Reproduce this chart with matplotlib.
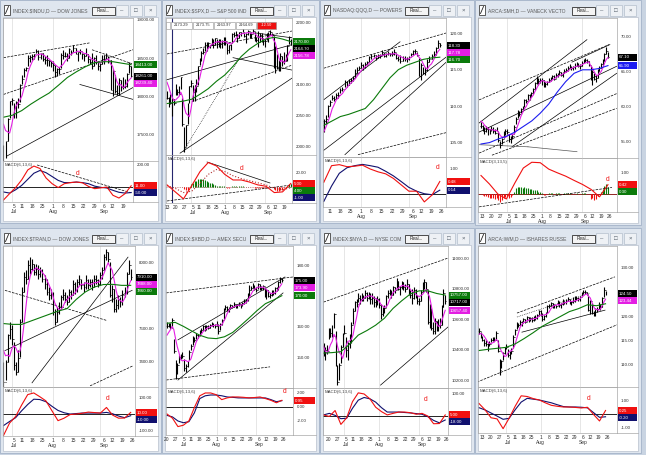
import numpy as np
import pandas as pd
import matplotlib
matplotlib.use("Agg")
import matplotlib.pyplot as plt
from matplotlib.patches import Rectangle

plt.rcParams['font.family'] = ['Liberation Sans', 'DejaVu Sans']

# ---------------- data (2016, daily) ----------------
# Dow Jones Industrials, Jun 27 - Sep 23
dji_pre = [17830, 17780, 18011, 17400]
dji_cl = [17140, 17410, 17695, 17930, 17949,
          17841, 17919, 17896, 18147,
          18227, 18348, 18372, 18506, 18517,
          18533, 18559, 18595, 18517, 18571,
          18493, 18474, 18472, 18456, 18432,
          18405, 18314, 18355, 18352, 18544,
          18529, 18533, 18496, 18614, 18576,
          18636, 18552, 18574, 18598, 18553,
          18529, 18547, 18481, 18448, 18395,
          18503, 18454, 18401, 18419, 18492,
          18538, 18526, 18480, 18085,
          18325, 18067, 18035, 18212, 18124,
          18120, 18130, 18294, 18392, 18261]
dji_hi = [17355, 17410, 17710, 17930, 17980,
          17904, 17931, 17975, 18160,
          18283, 18372, 18389, 18537, 18538,
          18556, 18559, 18622, 18605, 18571,
          18567, 18521, 18534, 18473, 18459,
          18459, 18404, 18371, 18378, 18572,
          18612, 18580, 18560, 18638, 18602,
          18668, 18636, 18578, 18613, 18568,
          18553, 18629, 18547, 18485, 18570,
          18519, 18541, 18448, 18432, 18536,
          18538, 18560, 18526, 18480,
          18359, 18280, 18145, 18241, 18212,
          18252, 18219, 18300, 18450, 18393]
dji_lo = [17063, 17190, 17410, 17711, 17890,
          17713, 17713, 17840, 17927,
          18160, 18249, 18331, 18394, 18450,
          18474, 18493, 18566, 18470, 18485,
          18464, 18420, 18402, 18395, 18380,
          18330, 18247, 18263, 18294, 18367,
          18490, 18511, 18467, 18496, 18541,
          18577, 18552, 18466, 18551, 18489,
          18456, 18529, 18431, 18418, 18355,
          18390, 18422, 18343, 18328, 18420,
          18426, 18493, 18431, 18084,
          18004, 18047, 18011, 18012, 18072,
          18100, 18107, 18116, 18303, 18251]
dji_slow = [17723, 17750, 17810, 17895, 17970, 18040, 18140, 18244,
            18320, 18387, 18440, 18452, 18452, 18432, 18413]
dji_macd = [-118, -60, -5, 65, 155, 190, 168, 82, 30, -5, 30, 40, 45, 38,
            5, -15, -8, 0, -75, -100, -60, 11]
dji_sig = [-45, -55, -25, 15, 70, 125, 150, 130, 95, 60, 40, 40, 45, 40,
           30, 8, -3, -9, -30, -48, -55, -50]
dji_lines = [((0, 18505), (42, 18700), '--'), ((43, 18609), (62.4, 18426), '--'),
             ((0, 18022), (62.9, 18609), '--'), ((1.7, 17214), (62.9, 18113), '-'),
             ((37.1, 18153), (62.9, 17957), '-')]
dji_mlines = [((16.3, 200), (62.4, -55), '--')]

# S&P 500, Jun 13 - Sep 23
spx_pre = [2112.1, 2119.1, 2115.5, 2096.1]
spx_cl = [2079.1, 2075.3, 2071.5, 2078.0, 2071.2,
          2083.3, 2088.9, 2085.5, 2113.3, 2037.4,
          2000.5, 2036.1, 2070.8, 2098.9, 2103.0,
          2088.6, 2099.7, 2097.9, 2129.9,
          2137.2, 2152.1, 2152.4, 2163.8, 2161.7,
          2166.9, 2163.8, 2173.0, 2165.2, 2175.0,
          2168.5, 2169.2, 2166.6, 2170.1, 2173.6,
          2170.8, 2157.0, 2163.8, 2164.3, 2182.9,
          2180.9, 2181.7, 2175.5, 2185.8, 2184.1,
          2190.2, 2178.2, 2182.2, 2187.0, 2183.9,
          2182.6, 2186.9, 2175.4, 2172.5, 2169.0,
          2180.4, 2176.1, 2171.0, 2170.9, 2180.0,
          2186.5, 2186.2, 2181.3, 2127.8,
          2159.0, 2127.0, 2125.8, 2147.3, 2139.2,
          2139.1, 2139.8, 2163.1, 2177.2, 2164.7]
spx_hi = [2091, 2081, 2086, 2079, 2078,
          2101, 2094, 2099, 2113, 2079,
          2032, 2036, 2071, 2099, 2108,
          2100, 2100, 2109, 2131,
          2143, 2155, 2159, 2169, 2169,
          2169, 2164, 2175, 2174, 2175,
          2174, 2174, 2174, 2172, 2177,
          2178, 2168, 2164, 2166, 2183,
          2185, 2187, 2182, 2186, 2186,
          2194, 2186, 2183, 2188, 2185,
          2185, 2193, 2186, 2178, 2187,
          2183, 2183, 2175, 2174, 2184,
          2186, 2188, 2184, 2179,
          2163, 2150, 2141, 2151, 2146,
          2153, 2150, 2164, 2179, 2174]
spx_lo = [2078, 2065, 2069, 2050, 2067,
          2083, 2083, 2084, 2094, 2033,
          1992, 2001, 2037, 2071, 2097,
          2074, 2074, 2089, 2100,
          2132, 2138, 2150, 2155, 2155,
          2159, 2159, 2165, 2159, 2164,
          2160, 2161, 2159, 2159, 2164,
          2164, 2150, 2152, 2157, 2168,
          2177, 2179, 2169, 2176, 2179,
          2186, 2178, 2168, 2181, 2175,
          2175, 2183, 2171, 2170, 2161,
          2170, 2170, 2165, 2162, 2173,
          2170, 2180, 2178, 2127,
          2120, 2126, 2122, 2122, 2131,
          2134, 2138, 2138, 2166, 2164]
spx_slow = [2070, 2072, 2074, 2077, 2085, 2094, 2106, 2116,
            2130, 2146, 2158, 2167, 2174, 2177, 2174, 2170]
spx_macd = [3, -7, -17, 2, 22, 35, 30, 18, 10, 10, 7, 3, 1, -8, -7, 5]
spx_sig = [2, -2, -8, -6, 5, 18, 25, 22, 16, 12, 9, 6, 3, -2, -4, -1]
spx_hist = [0, 0, 0, 0, 0,
            0, 0, 0, 0, 0,
            -3, -5, -4, 0, 4,
            6, 8, 9, 11,
            12, 12, 11, 10, 9,
            7, 6, 5, 4, 3,
            2, 2, 1, 1, 1,
            0, -1, -1, 0, 1,
            1, 1, 0, 1, 1,
            1, 0, 0, 0, 0,
            0, 0, -1, -1, -1,
            -1, -1, -1, -1, 0,
            0, 0, 0, -3,
            -4, -6, -6, -5, -4,
            -2, -1, 2, 4, 4]
spx_legend = ['2173.29', '2173.75', '2163.97', '2164.69']
spx_lines = [((0, 2150), (72.7, 2187), '--'), ((51.2, 2184), (72.7, 2176), '-'),
             ((-0.6, 2108), (72.7, 2165), '-'), ((14.5, 2073), (72.7, 2132), '--'),
             ((38.4, 2144), (72.7, 2124), '-'), ((7.6, 1990), (72.7, 2111), '-'),
             ((9.3, 1992), (42.4, 2144), ':')]
spx_mlines = [((23.3, 35.7), (59.9, 5.7), '-'), ((0, -20), (72.7, 2.9), '--')]

# PowerShares QQQ, Jul 6 - Sep 23
qqq_pre = [105.2, 106.3, 106.8, 106.3]
qqq_cl = [108.0, 108.3, 110.0,
          110.6, 111.2, 111.0, 111.5, 111.6,
          112.2, 112.4, 113.3, 112.9, 113.5,
          113.6, 113.8, 114.6, 115.0, 115.2,
          115.7, 115.3, 115.8, 116.0, 116.7,
          116.8, 117.0, 116.6, 117.0, 116.9,
          117.4, 116.9, 117.1, 117.3, 117.1,
          117.2, 117.4, 116.6, 116.5, 116.2,
          116.6, 116.5, 116.4, 116.7, 117.1,
          117.5, 117.6, 117.0, 114.2,
          115.6, 114.6, 114.9, 116.1, 116.5,
          116.9, 117.2, 117.9, 118.6, 118.3]
qqq_hi = [108.3, 108.8, 110.2,
          110.8, 111.6, 111.4, 111.8, 111.9,
          112.5, 112.7, 113.6, 113.4, 113.7,
          113.9, 114.2, 115.1, 115.4, 115.5,
          116.0, 115.8, 116.0, 116.2, 116.9,
          117.1, 117.2, 117.0, 117.2, 117.1,
          117.7, 117.3, 117.3, 117.5, 117.3,
          117.5, 117.8, 117.3, 116.8, 117.0,
          116.9, 116.8, 116.7, 116.9, 117.3,
          117.7, 117.8, 117.4, 116.6,
          115.9, 115.4, 115.4, 116.4, 116.8,
          117.2, 117.5, 118.1, 119.0, 118.7]
qqq_lo = [106.5, 107.6, 108.6,
          110.0, 110.8, 110.7, 111.0, 111.2,
          111.8, 112.1, 112.7, 112.6, 112.9,
          113.2, 113.4, 113.9, 114.6, 114.9,
          115.2, 114.9, 115.2, 115.6, 116.1,
          116.5, 116.7, 116.3, 116.6, 116.6,
          117.0, 116.7, 116.7, 117.0, 116.8,
          116.9, 117.0, 116.4, 116.2, 115.9,
          116.2, 116.2, 116.1, 116.3, 116.8,
          117.0, 117.2, 116.8, 114.1,
          113.6, 114.4, 114.3, 114.8, 116.0,
          116.5, 116.8, 117.0, 118.0, 118.1]
qqq_slow = [107.4, 108.0, 108.6, 108.9, 109.3, 109.7, 110.9, 112.4,
            113.9, 115.0, 115.6, 116.0, 116.4, 116.6, 116.7]
qqq_macd = [0.45, 1.1, 1.14, 1.06, 1.08, 1.12, 0.97, 0.86, 0.78, 0.6, 0.35,
            0.1, 0.1, -0.32, -0.05, 0.48]
qqq_sig = [-0.3, 0.3, 0.8, 1.02, 1.1, 1.15, 1.1, 1.04, 0.88, 0.7, 0.48,
           0.25, 0.1, 0.0, -0.04, 0.14]
qqq_lines = [((0, 115.2), (59, 120.0), '--'), ((0, 110.9), (36.8, 118.8), '-'),
             ((0, 104.0), (59, 116.7), '-'), ((10.2, 103.4), (59, 116.0), '-'),
             ((16.5, 103.4), (59, 106.4), '--')]

# VanEck Vectors Semiconductor SMH, Jun 10 - Sep 23
smh_pre = [58.0, 58.4, 58.2, 57.9]
smh_cl = [57.3,
          57.0, 56.6, 56.9, 56.8, 56.4,
          56.9, 56.6, 56.3, 57.0, 55.3,
          54.5, 55.4, 56.3, 56.6, 56.4,
          55.4, 55.7, 55.9, 57.2,
          58.3, 59.2, 59.0, 59.7, 59.8,
          61.0, 60.8, 61.7, 61.3, 62.0,
          62.5, 63.4, 64.0, 63.7, 63.9,
          63.8, 63.1, 63.3, 63.5, 63.9,
          64.1, 64.4, 64.0, 64.6, 64.5,
          65.0, 64.6, 64.8, 65.2, 65.3,
          65.6, 65.9, 65.5, 65.7, 65.8,
          66.2, 65.9, 65.8, 66.3, 66.6,
          66.7, 66.5, 66.0, 63.8,
          65.0, 64.0, 64.2, 65.2, 65.6,
          66.1, 66.6, 67.5, 68.0, 67.1]
smh_hi = [57.8,
          57.4, 57.1, 57.3, 57.1, 56.9,
          57.3, 57.1, 56.8, 57.2, 56.5,
          55.2, 55.6, 56.5, 56.8, 56.9,
          56.1, 55.9, 56.2, 57.4,
          58.5, 59.5, 59.4, 59.9, 60.1,
          61.2, 61.2, 61.9, 61.8, 62.2,
          62.7, 63.6, 64.4, 64.2, 64.1,
          64.2, 63.8, 63.5, 63.7, 64.1,
          64.3, 64.6, 64.5, 64.8, 64.8,
          65.3, 65.0, 65.0, 65.4, 65.6,
          65.8, 66.2, 65.9, 65.9, 66.3,
          66.4, 66.3, 66.1, 66.5, 66.8,
          67.0, 66.9, 66.6, 65.8,
          65.3, 64.8, 64.6, 65.4, 65.8,
          66.3, 66.8, 67.7, 68.5, 67.9]
smh_lo = [57.0,
          56.6, 56.2, 56.4, 56.0, 56.2,
          56.5, 56.3, 56.1, 56.5, 55.0,
          54.2, 54.7, 55.6, 56.0, 56.1,
          55.0, 54.9, 55.4, 56.2,
          57.5, 58.4, 58.7, 59.1, 59.4,
          60.0, 60.5, 61.0, 61.0, 61.4,
          61.8, 62.4, 63.3, 63.2, 63.4,
          63.1, 62.8, 62.9, 63.1, 63.5,
          63.7, 64.0, 63.8, 64.1, 64.3,
          64.6, 64.4, 64.3, 64.8, 65.0,
          65.2, 65.6, 65.3, 65.3, 65.4,
          65.8, 65.7, 65.4, 65.8, 66.3,
          66.4, 66.3, 65.8, 63.8,
          63.2, 63.9, 63.6, 64.1, 65.1,
          65.6, 66.0, 66.6, 67.5, 67.0]
smh_slow = [54.7, 54.9, 55.4, 55.8, 56.4, 57.2, 58.0, 59.1,
            60.4, 62.1, 63.6, 64.8, 65.3, 65.3, 65.5, 65.9]
smh_macd = [0.85, 0.45, -0.02, -0.25, 0.5, 1.2, 1.47, 1.45, 1.15, 0.98, 0.82,
            0.62, 0.43, 0.2, -0.15, 0.42]
smh_hist = [0,
            -0.05, -0.1, -0.12, -0.15, -0.2,
            -0.2, -0.22, -0.25, -0.2, -0.3,
            -0.38, -0.3, -0.2, -0.15, -0.12,
            -0.2, -0.15, -0.05, 0.1,
            0.25, 0.33, 0.3, 0.32, 0.28,
            0.3, 0.25, 0.25, 0.2, 0.2,
            0.15, 0.18, 0.15, 0.1, 0.08,
            0.05, -0.05, -0.05, -0.03, 0.02,
            0.02, 0.03, 0.0, 0.03, 0.02,
            0.03, 0.0, 0.0, 0.02, 0.02,
            0.02, 0.03, 0.0, 0.0, 0.0,
            0.02, 0.0, -0.02, 0.02, 0.03,
            0.03, 0.0, -0.03, -0.25,
            -0.2, -0.3, -0.25, -0.1, -0.02,
            0.1, 0.2, 0.35, 0.43, 0.3]
smh_lines = [((-1.1, 61.0), (73.6, 68.9), '--'), ((-1.1, 57.7), (60.9, 69.6), '-'),
             ((-1.1, 56.4), (78, 65.8), '-'), ((52.3, 66.4), (74.1, 68.9), '-'),
             ((-1.1, 53.4), (78, 61.9), '--'), ((6.3, 53.1), (78, 59.8), '--'),
             ((17.8, 54.3), (78, 64.8), '-'),
             ((-1.1, 54.6), (27, 54.3), '-', '#555555'), ((27, 54.3), (55.2, 53.6), '-', '#555555')]
smh_mlines = [((-1.1, -0.62), (75.3, 0.29), '--')]

# Dow Jones Transportation, Jun 27 - Sep 23
djt_pre = [7560, 7540, 7640, 7320]
djt_cl = [7280, 7400, 7560, 7600, 7540,
          7380, 7340, 7420, 7640,
          7820, 7910, 7900, 7980, 7960,
          7990, 7940, 7960, 7930, 7950,
          7900, 7870, 7820, 7800, 7810,
          7700, 7640, 7700, 7730, 7790,
          7800, 7780, 7760, 7820, 7800,
          7870, 7830, 7880, 7900, 7860,
          7850, 7890, 7860, 7880, 7850,
          7900, 7890, 7870, 7920, 7950,
          8030, 8060, 8020, 7800,
          7840, 7720, 7740, 7780, 7760,
          7800, 7820, 7930, 7980, 7910]
djt_hi = [7400, 7410, 7570, 7640, 7620,
          7520, 7400, 7470, 7660,
          7850, 7940, 7950, 8010, 8030,
          8020, 7990, 7990, 7980, 7970,
          7960, 7920, 7900, 7850, 7840,
          7820, 7720, 7730, 7760, 7800,
          7840, 7820, 7800, 7840, 7830,
          7890, 7880, 7900, 7920, 7900,
          7880, 7920, 7900, 7900, 7900,
          7920, 7920, 7900, 7940, 7970,
          8050, 8080, 8060, 8000,
          7860, 7840, 7780, 7800, 7790,
          7830, 7850, 7940, 8010, 7960]
djt_lo = [7250, 7290, 7400, 7540, 7500,
          7350, 7320, 7340, 7430,
          7640, 7820, 7870, 7900, 7930,
          7950, 7920, 7920, 7900, 7910,
          7880, 7840, 7800, 7770, 7780,
          7680, 7620, 7640, 7690, 7720,
          7770, 7760, 7740, 7760, 7780,
          7800, 7810, 7820, 7860, 7840,
          7820, 7840, 7840, 7850, 7830,
          7850, 7870, 7850, 7860, 7900,
          7950, 8010, 8000, 7790,
          7760, 7700, 7700, 7720, 7730,
          7740, 7790, 7810, 7930, 7890]
djt_slow = [7630, 7625, 7625, 7645, 7665, 7685, 7705, 7720,
            7775, 7820, 7850, 7865, 7866, 7860, 7860]
djt_macd = [-130, -55, -15, 55, 118, 128, 105, 80, 20, -40, -25, -3, 0, 5,
            12, 9, 6, 40, -6, -25, -24, 10]
djt_sig = [-70, -45, -22, 20, 58, 90, 88, 75, 47, 22, 8, 0, 3, 6,
           6, 6, 6, 10, 2, -12, -22, -10]
djt_lines = [((0.7, 7830), (50.5, 7648), '--'), ((0.7, 7467), (62.7, 7830), '-'),
             ((13.9, 7273), (60.7, 8030), '-'), ((42.2, 7255), (63.2, 7376), '--')]

# AMEX Securities Broker/Dealer XBD, Jun 20 - Sep 23
xbd_pre = [156.0, 155.5, 156.5, 157.5]
xbd_cl = [160.2, 160.5, 159.8, 162.0, 152.0,
          145.5, 147.5, 150.0, 150.5, 150.2,
          146.5, 147.2, 148.0, 151.8,
          153.5, 156.2, 155.6, 157.3, 157.0,
          158.2, 158.8, 160.0, 159.3, 160.1,
          159.6, 160.4, 160.8, 160.5, 160.2,
          161.0, 158.5, 160.8, 162.0, 165.5,
          166.2, 165.8, 165.6, 166.8, 166.4,
          167.3, 166.6, 166.9, 167.2, 166.8,
          167.5, 168.2, 168.6, 170.5, 172.0,
          172.6, 173.3, 172.2, 172.0, 173.8,
          172.8, 172.5, 173.2, 169.8,
          171.8, 169.9, 170.1, 171.6, 170.8,
          172.4, 172.0, 174.6, 175.5, 175.0]
xbd_hi = [161.5, 161.2, 161.0, 162.6, 156.0,
          149.0, 148.0, 150.5, 151.0, 151.5,
          149.5, 147.8, 148.8, 152.2,
          154.2, 156.8, 156.6, 157.8, 157.6,
          158.8, 159.4, 160.5, 160.3, 160.5,
          160.4, 160.9, 161.5, 161.0, 160.8,
          161.8, 160.8, 161.2, 162.4, 165.9,
          166.8, 166.5, 166.3, 167.2, 167.0,
          168.0, 167.4, 167.3, 167.8, 167.3,
          167.9, 168.8, 169.0, 171.0, 173.4,
          173.2, 174.0, 173.4, 172.8, 174.2,
          173.9, 173.2, 173.6, 172.9,
          172.3, 171.8, 170.9, 172.0, 171.8,
          172.9, 172.8, 174.9, 176.2, 175.8]
xbd_lo = [159.6, 159.8, 159.2, 159.6, 151.4,
          142.8, 144.5, 148.0, 149.4, 149.6,
          145.4, 145.0, 146.6, 148.9,
          152.4, 154.0, 155.0, 155.9, 156.1,
          157.2, 157.8, 158.8, 158.6, 158.9,
          159.0, 159.4, 160.0, 159.7, 159.5,
          160.0, 157.6, 158.8, 160.6, 162.5,
          165.3, 165.0, 164.8, 165.6, 165.9,
          166.4, 166.0, 166.0, 166.5, 166.0,
          166.7, 167.3, 167.7, 168.4, 170.0,
          171.7, 172.4, 171.7, 171.2, 172.3,
          172.0, 171.8, 172.0, 169.6,
          168.8, 169.5, 169.3, 170.0, 170.2,
          170.5, 171.5, 172.0, 174.2, 174.5]
xbd_slow = [161.0, 161.3, 160.0, 158.5, 157.1, 156.2, 156.0, 156.6,
            158.0, 160.3, 162.7, 165.2, 167.4, 168.6, 170.0]
xbd_macd = [-1.0, -1.6, -2.8, -2.6, -2.0, -0.1, 1.6, 2.0, 2.0, 1.75, 1.05,
            1.3, 1.43, 1.43, 1.38, 1.3, 1.35, 1.43, 1.2, 0.95, 0.6, 0.95]
xbd_sig = [-1.2, -1.42, -2.0, -2.25, -2.1, -0.85, 1.2, 1.6, 1.71, 1.71, 1.6,
           1.43, 1.38, 1.3, 1.29, 1.29, 1.29, 1.29, 1.29, 1.05, 0.75, 0.9]
xbd_lines = [((-0.5, 170.9), (73.5, 176.1), '--'), ((6.4, 155.6), (68.8, 176.1), '-'),
             ((6.4, 142.5), (67.7, 170.9), '-'), ((-0.5, 142.5), (60.1, 146.8), '--')]

# NYSE Composite, Jun 15 - Sep 23
nya_pre = [10560, 10450, 10380, 10340]
nya_cl = [10380, 10400, 10390,
          10480, 10510, 10490, 10630, 10300,
          10190, 10300, 10420, 10500, 10510,
          10400, 10440, 10430, 10560,
          10650, 10710, 10700, 10740, 10730,
          10750, 10740, 10770, 10740, 10770,
          10730, 10740, 10710, 10720, 10730,
          10690, 10630, 10660, 10670, 10750,
          10770, 10780, 10760, 10810, 10790,
          10850, 10800, 10810, 10840, 10810,
          10800, 10830, 10770, 10760, 10740,
          10790, 10760, 10720, 10720, 10780,
          10830, 10840, 10800, 10580,
          10680, 10540, 10520, 10590, 10550,
          10560, 10560, 10680, 10770, 10717]
nya_hi = [10440, 10420, 10430,
          10540, 10540, 10560, 10640, 10520,
          10300, 10310, 10430, 10510, 10560,
          10480, 10450, 10500, 10580,
          10670, 10720, 10730, 10770, 10760,
          10770, 10760, 10790, 10780, 10780,
          10770, 10770, 10750, 10740, 10750,
          10740, 10700, 10680, 10690, 10760,
          10790, 10800, 10790, 10820, 10810,
          10870, 10850, 10820, 10850, 10840,
          10830, 10860, 10830, 10790, 10800,
          10810, 10800, 10760, 10740, 10790,
          10840, 10860, 10840, 10790,
          10700, 10670, 10580, 10610, 10590,
          10600, 10610, 10690, 10800, 10760]
nya_lo = [10360, 10330, 10370,
          10470, 10480, 10480, 10540, 10290,
          10170, 10200, 10310, 10420, 10500,
          10350, 10330, 10410, 10440,
          10570, 10650, 10680, 10710, 10700,
          10720, 10720, 10740, 10720, 10730,
          10700, 10700, 10680, 10680, 10690,
          10670, 10600, 10620, 10640, 10680,
          10740, 10760, 10740, 10760, 10770,
          10800, 10790, 10760, 10800, 10790,
          10780, 10800, 10760, 10740, 10700,
          10730, 10740, 10700, 10690, 10720,
          10780, 10800, 10780, 10570,
          10540, 10530, 10500, 10500, 10520,
          10520, 10540, 10560, 10680, 10700]
nya_slow = [10377, 10380, 10386, 10435, 10495, 10525, 10560, 10605,
            10670, 10720, 10765, 10785, 10785, 10768, 10757]
nya_macd = [5, -2, 25, -38, -8, 65, 105, 100, 78, 40, 20, 5, 12, 18, 18,
            15, 8, 12, 0, -35, -34, 5]
nya_sig = [5, 12, 3, -12, -10, 35, 72, 84, 78, 63, 38, 18, 18, 18, 16,
           14, 11, 8, -3, -20, -31, -18]
nya_lines = [((0, 10711), (71.6, 11000), '--'), ((32.8, 10167), (71.6, 10548), '-')]

# iShares Russell 2000 IWM, Jun 9 - Sep 23
iwm_pre = [115.0, 116.0, 116.3, 117.0]
iwm_cl = [117.0, 115.9,
          115.1, 114.4, 114.3, 114.0, 114.2,
          115.0, 115.2, 115.0, 116.6, 112.8,
          109.0, 110.9, 112.4, 113.5, 113.6,
          112.0, 112.6, 112.8, 115.8,
          117.1, 118.4, 118.2, 118.8, 118.6,
          119.3, 118.8, 119.8, 119.2, 119.6,
          119.2, 119.7, 119.6, 120.3, 121.0,
          120.5, 119.3, 120.0, 120.6, 122.0,
          122.1, 122.6, 121.9, 122.3, 122.0,
          123.0, 122.2, 122.4, 123.2, 122.8,
          123.1, 123.5, 122.6, 122.8, 123.0,
          123.7, 123.6, 123.5, 123.8, 124.6,
          125.0, 124.9, 124.5, 121.2,
          123.0, 120.6, 120.4, 121.4, 121.5,
          122.0, 121.8, 123.6, 125.3, 124.5]
iwm_hi = [117.6, 116.8,
          115.9, 115.3, 115.2, 114.5, 114.9,
          115.6, 115.7, 115.8, 116.9, 115.2,
          111.3, 111.0, 112.6, 113.6, 114.2,
          113.3, 112.8, 113.4, 116.2,
          117.4, 118.7, 118.6, 119.1, 119.0,
          119.5, 119.3, 120.0, 119.9, 119.8,
          119.9, 120.0, 120.3, 120.5, 121.2,
          121.3, 120.6, 120.3, 120.8, 122.2,
          122.5, 122.8, 122.6, 122.5, 122.3,
          123.3, 123.0, 122.7, 123.4, 123.1,
          123.4, 123.9, 123.5, 123.0, 123.9,
          124.0, 124.0, 123.8, 124.1, 124.9,
          125.3, 125.4, 124.9, 124.3,
          123.2, 122.6, 121.0, 121.6, 121.9,
          122.8, 122.5, 123.8, 125.9, 125.2]
iwm_lo = [116.4, 115.6,
          114.8, 113.9, 113.9, 112.9, 113.9,
          114.6, 114.8, 114.8, 115.1, 112.6,
          108.0, 109.4, 111.1, 112.3, 113.3,
          111.6, 111.2, 112.2, 113.4,
          116.1, 117.3, 117.7, 118.2, 118.0,
          118.7, 118.5, 118.9, 118.8, 119.0,
          118.8, 119.0, 119.1, 119.4, 120.1,
          120.0, 119.0, 119.2, 119.9, 120.6,
          121.7, 122.0, 121.6, 121.7, 121.7,
          122.2, 121.8, 121.6, 122.3, 122.4,
          122.5, 123.0, 122.4, 122.3, 122.6,
          122.8, 123.3, 123.0, 123.1, 124.0,
          124.4, 124.5, 124.2, 121.1,
          120.4, 120.5, 120.0, 120.1, 120.8,
          121.5, 121.3, 121.9, 123.8, 124.2]
iwm_slow = [112.95, 113.2, 113.4, 113.6, 114.3, 115.4, 116.6, 117.9,
            118.9, 119.9, 120.9, 121.5, 122.3, 122.1, 122.5]
iwm_macd = [0.75, 0.3, -0.27, -0.35, -1.05, -0.3, 0.55, 1.3, 1.25, 1.1, 1.0,
            0.8, 0.62, 0.55, 0.5, 0.5, 0.47, 0.43, 0.48, -0.03, -0.5, 0.25]
iwm_sig = [0.45, 0.29, 0.07, -0.15, -0.38, -0.31, 0.3, 0.85, 1.12, 1.06, 1.0,
           0.9, 0.8, 0.66, 0.53, 0.5, 0.5, 0.48, 0.44, 0.1, -0.24, -0.2]
iwm_lines = [((22.2, 120.6), (79.5, 128.0), '--'), ((22.2, 119.8), (64.9, 124.7), ':'),
             ((25.1, 116.7), (73.7, 121.2), '-'), ((-1.2, 106.5), (80.7, 118.2), '--')]

# ---------------- drawing ----------------
W, H = 646, 455
FS = 3.2
DFS = 3.5
PINK = '#e31ee3'
GREEN = '#0b7a0b'
BLUE = '#1c1cf0'
RED = '#f01010'
NAVY = '#10106e'

fig = plt.figure(figsize=(W / 100, H / 100), dpi=100)
fig.patch.set_facecolor('#c9d4e2')
bg = fig.add_axes([0, 0, 1, 1])
bg.set_xlim(0, W)
bg.set_ylim(H, 0)
bg.axis('off')
bg.set_zorder(-1)
top = fig.add_axes([0, 0, 1, 1])
top.set_xlim(0, W)
top.set_ylim(H, 0)
top.axis('off')
top.set_zorder(5)
renderer = fig.canvas.get_renderer()

days = pd.bdate_range('2016-06-01', '2016-09-30')
days = days[~days.isin(pd.to_datetime(['2016-07-04', '2016-09-05']))]


def px_axes(x0, y0, x1, y1):
    ax = fig.add_axes([x0 / W, 1 - y1 / H, (x1 - x0) / W, (y1 - y0) / H])
    ax.set_facecolor('none')
    for sp in ax.spines.values():
        sp.set_color('#a8a8a8')
        sp.set_linewidth(0.5)
    return ax


def window(x0, y0, x1, y1, title):
    bg.add_patch(Rectangle((x0, y0), x1 - x0, y1 - y0, fc='#dfe6ef', ec='#a3b3c8', lw=0.6))
    bg.add_patch(Rectangle((x0 + 3, y0 + 17), x1 - x0 - 6, y1 - y0 - 19, fc='white',
                           ec='#b8c0cc', lw=0.5))
    top.add_patch(Rectangle((x0 + 4, y0 + 5), 6, 10, fc='white', ec='#404040', lw=0.6))
    top.plot([x0 + 5.5, x0 + 8.5], [y0 + 13.5, y0 + 6.5], color='#202020', lw=0.6)
    r = x1
    # title, cut where the toolbar buttons start
    room = (r - 72) - (x0 + 13)
    t = top.text(x0 + 13, y0 + 10.5, title, fontsize=3.6, color='#5a5a5a', va='center')
    s = title
    while len(s) > 4 and t.get_window_extent(renderer).width > room:
        s = s[:-1]
        t.set_text(s)
    top.add_patch(Rectangle((r - 69, y0 + 7), 23, 8, fc='#f4f4f4', ec='#303030', lw=0.6))
    top.text(r - 57.5, y0 + 11, 'Real...', fontsize=3.3, ha='center', va='center',
             color='#202020')
    for k, g in enumerate(['–', '□', '×']):
        bx = r - 45 + k * 14
        top.add_patch(Rectangle((bx, y0 + 5), 12, 11, fc='#eef1f5', ec='#b5bfcc', lw=0.5))
        top.text(bx + 6, y0 + 10.5, g, fontsize=4.3, ha='center', va='center',
                 color='#505a66')


def box_positions(items, T, B, lim):
    pos = []
    for v, fc in items:
        pos.append([T + (lim[1] - v) / (lim[1] - lim[0]) * (B - T), v, fc])
    pos.sort(key=lambda p: p[0])
    last = -99
    for p in pos:
        p[0] = max(p[0], last + 7)
        last = p[0]
    return pos


def side_boxes(pos, R, wbox):
    for y, v, fc in pos:
        top.add_patch(Rectangle((R + 1, y - 3.5), wbox, 7, fc=fc, ec='none'))
        top.text(R + 2, y + 0.2, f'{v:.2f}', color='white', fontsize=FS, va='center')


def right_ticks(ax, ticks, T, B, lim, pos):
    keep = []
    for v in ticks:
        y = T + (lim[1] - v) / (lim[1] - lim[0]) * (B - T)
        if y < T + 1.5 or y > B - 1.5:
            continue
        if all(abs(y - p[0]) > 6.2 for p in pos):
            keep.append(v)
    ax.yaxis.tick_right()
    ax.set_yticks(keep)
    ax.set_yticklabels([f'{v:.2f}' for v in keep])
    ax.tick_params(axis='y', length=0, labelsize=FS, pad=2.5, labelcolor='#303030')


def draw_panel(win, box, start, xl, title, cl, hi, lo, pre, slow, yl, yt,
               macd, ml, mt, lines, mlines, dmark, sig=None, hist=None,
               slow_col=GREEN, sig_ls='-', sig_col=NAVY, zero_col='black',
               mname='MACD(6,13,6)', pkeys=('slow', 'close', 'fast'),
               mkeys=('macd', 'sig'), vline=None):
    x0, y0, x1, y1 = win
    L, T, R, PB, MB = box
    window(x0, y0, x1, y1, title)
    n = len(cl)
    x = np.arange(n)
    i0 = days.get_loc(pd.Timestamp(start))
    fast = pd.Series(pre + cl).rolling(5).mean().to_numpy()[len(pre):]
    op = [cl[0]] + cl[:-1]
    wbox = x1 - 4 - (R + 1)

    pv = {'slow': (slow[-1], slow_col), 'close': (cl[-1], 'black'), 'fast': (fast[-1], PINK)}
    ppos = box_positions([pv[k] for k in pkeys], T, PB, yl)
    mv = {'macd': (macd[-1], RED)}
    if sig is not None:
        mv['sig'] = (sig[-1], NAVY)
    if hist is not None:
        mv['hist'] = (hist[-1], GREEN)
    mpos_box = box_positions([mv[k] for k in mkeys], PB, MB, ml)

    # month separators
    mpos = [g - i0 for g in range(1, len(days)) if days[g].month != days[g - 1].month]
    mpos = [m for m in mpos if xl[0] < m < xl[1]]

    ax = px_axes(L, T, R, PB)
    ax.set_xlim(*xl)
    ax.set_ylim(*yl)
    right_ticks(ax, yt, T, PB, yl, ppos)
    ax.set_xticks([])
    for m in mpos:
        ax.axvline(m, color='#e2e2e2', lw=0.6, zorder=0)
    if vline is not None:
        ax.axvline(vline, color='#26266e', lw=0.8)
    for ln in lines:
        col = ln[3] if len(ln) > 3 else 'black'
        ax.plot([ln[0][0], ln[1][0]], [ln[0][1], ln[1][1]], color=col, lw=0.5, ls=ln[2])
    ax.vlines(x, lo, hi, color='black', lw=0.8)
    ax.hlines(cl, x, x + 0.45, color='black', lw=0.6)
    ax.hlines(op, x - 0.45, x, color='black', lw=0.6)
    ax.plot(x, fast, color=PINK, lw=0.8)
    ax.plot(np.linspace(0, n - 1, len(slow)), slow, color=slow_col, lw=0.8)

    mx = px_axes(L, PB, R, MB)
    mx.set_xlim(*xl)
    mx.set_ylim(*ml)
    right_ticks(mx, mt, PB, MB, ml, mpos_box)
    for m in mpos:
        mx.axvline(m, color='#e2e2e2', lw=0.6, zorder=0)
    if vline is not None:
        mx.axvline(vline, color='#26266e', lw=0.8)
    if zero_col == 'dotted':
        mx.axhline(0, color='#a04040', lw=0.6, ls=':')
    else:
        mx.axhline(0, color=zero_col, lw=0.6)
    if hist is not None:
        mx.vlines(x, 0, hist, colors=[GREEN if h > 0 else RED for h in hist], lw=0.8)
    for ln in mlines:
        mx.plot([ln[0][0], ln[1][0]], [ln[0][1], ln[1][1]], color='black', lw=0.5, ls=ln[2])
    if sig is not None:
        mx.plot(np.linspace(0, n - 1, len(sig)), sig, color=sig_col, lw=0.8, ls=sig_ls)
    mx.plot(np.linspace(0, n - 1, len(macd)), macd, color=RED, lw=0.8)
    mx.text(0.012, 0.96, mname, transform=mx.transAxes, fontsize=FS, va='top',
            color='#404040')
    mx.text(dmark[0], dmark[1], 'd', color=RED, fontsize=4.8, ha='center', va='center')

    # date axis
    ticks, labs = [], []
    prev = None
    for g in range(len(days)):
        d = days[g]
        if g > 0 and d.weekday() > days[g - 1].weekday():
            continue
        lab = str(d.day)
        if prev is not None and d.month != prev.month:
            lab += '\n' + d.strftime('%b')
        prev = d
        k = g - i0
        if xl[0] + 0.5 <= k <= xl[1] - 0.5:
            ticks.append(k)
            labs.append(lab)
    mx.set_xticks(ticks)
    mx.set_xticklabels(labs, linespacing=1.0)
    mx.tick_params(axis='x', length=0, labelsize=DFS, pad=1.6, labelcolor='#303030')

    bg.plot([R, x1 - 3], [PB, PB], color='#a8a8a8', lw=0.5)
    bg.plot([R, x1 - 3], [MB, MB], color='#a8a8a8', lw=0.5)

    side_boxes(ppos, R, wbox)
    side_boxes(mpos_box, R, wbox)


draw_panel((0, 0, 161, 223), (3, 18, 133, 161, 202), '2016-06-27', (-0.24, 62.9),
           'INDEX:$INDU,D — DOW JONES INDUSTRIAL AVERAGE',
           dji_cl, dji_hi, dji_lo, dji_pre, dji_slow, (17148, 19026),
           [17500, 18000, 18500, 19000], dji_macd, (-136, 236), [200],
           dji_lines, dji_mlines, (36.2, 127), sig=dji_sig)

draw_panel((162, 0, 319, 223), (166, 18, 292, 155, 203), '2016-06-13', (-0.58, 72.7),
           'INDEX:$SPX,D — S&P 500 INDEX',
           spx_cl, spx_hi, spx_lo, spx_pre, spx_slow, (1987, 2208),
           [2000, 2050, 2100, 2150, 2200], spx_macd, (-22.9, 45.7), [20],
           spx_lines, spx_mlines, (43.6, 27), sig=spx_sig, hist=spx_hist,
           sig_ls=':', sig_col='#b03030', zero_col='dotted',
           mkeys=('hist', 'macd', 'sig'), vline=3)

draw_panel((320, 0, 474, 223), (323, 18, 446, 157, 207), '2016-07-06', (-0.39, 59.0),
           'NASDAQ:QQQ,D — POWERSHARES QQQ TRUST',
           qqq_cl, qqq_hi, qqq_lo, qqq_pre, qqq_slow, (103.08, 122.05),
           [105, 110, 115, 120], qqq_macd, (-0.52, 1.44), [0, 1],
           qqq_lines, [], (55.1, 1.04), sig=qqq_sig,
           pkeys=('close', 'fast', 'slow'))

draw_panel((475, 0, 641, 225), (478, 18, 617, 158, 212), '2016-06-10', (-1.72, 78.2),
           'ARCA:SMH,D — VANECK VECTORS SEMICONDUCTOR ETF',
           smh_cl, smh_hi, smh_lo, smh_pre, smh_slow, (52.7, 72.7),
           [55, 60, 65, 70], smh_macd, (-0.86, 1.67), [1],
           smh_lines, smh_mlines, (73, 0.67), hist=smh_hist, slow_col=BLUE,
           zero_col='#800000', mname='MACD(3,13,5)',
           pkeys=('close', 'slow'), mkeys=('macd', 'hist'))

draw_panel((0, 228, 161, 453), (3, 246, 135, 387, 436), '2016-06-27', (-0.24, 64.1),
           'INDEX:$TRAN,D — DOW JONES TRANSPORTATION',
           djt_cl, djt_hi, djt_lo, djt_pre, djt_slow, (7248, 8097),
           [7400, 7600, 7800, 8000], djt_macd, (-133, 164), [-100, 100],
           djt_lines, [], (50.5, 97), sig=djt_sig)

draw_panel((162, 228, 319, 453), (166, 246, 293, 388, 435), '2016-06-20', (-0.58, 73.5),
           'INDEX:$XBD,D — AMEX SECURITIES BROKER/DEALER',
           xbd_cl, xbd_hi, xbd_lo, xbd_pre, xbd_slow, (139.9, 186.2),
           [150, 160, 170, 180], xbd_macd, (-4.0, 2.71), [-2, 0, 2],
           xbd_lines, [], (68.8, 2.14), sig=xbd_sig,
           pkeys=('close', 'fast', 'slow'), mkeys=('macd',))

draw_panel((320, 228, 474, 453), (323, 246, 448, 388, 435), '2016-06-15', (-0.29, 71.6),
           'INDEX:$NYA,D — NYSE COMPOSITE INDEX',
           nya_cl, nya_hi, nya_lo, nya_pre, nya_slow, (10148, 11079),
           [10200, 10400, 10600, 10800, 11000], nya_macd, (-86, 127), [100],
           nya_lines, [], (58.6, 73), sig=nya_sig)

draw_panel((475, 228, 641, 453), (478, 246, 617, 387, 433), '2016-06-09', (-0.58, 80.7),
           'ARCA:IWM,D — ISHARES RUSSELL 2000 ETF',
           iwm_cl, iwm_hi, iwm_lo, iwm_pre, iwm_slow, (105.5, 134.3),
           [110, 115, 120, 125, 130], iwm_macd, (-1.36, 1.93), [-1, 1],
           iwm_lines, [], (64.3, 1.14), sig=iwm_sig, pkeys=('close', 'fast'))

# S&P legend strip
top.add_patch(Rectangle((166, 22), 4, 6.5, fc='white', ec='#909090', lw=0.4))
for k, s in enumerate(spx_legend):
    top.add_patch(Rectangle((171 + 21.5 * k, 22), 20.5, 6.5, fc='white', ec='#909090', lw=0.4))
    top.text(181.2 + 21.5 * k, 25.4, s, fontsize=2.9, ha='center', va='center', color='#303030')
top.add_patch(Rectangle((257, 22), 19, 6.5, fc='#ee1111', ec='#909090', lw=0.4))
top.text(266.5, 25.4, f'{spx_cl[-1] - spx_cl[-2]:.2f}', fontsize=2.9, ha='center',
         va='center', color='white')

fig.savefig('out.png', dpi=100)
